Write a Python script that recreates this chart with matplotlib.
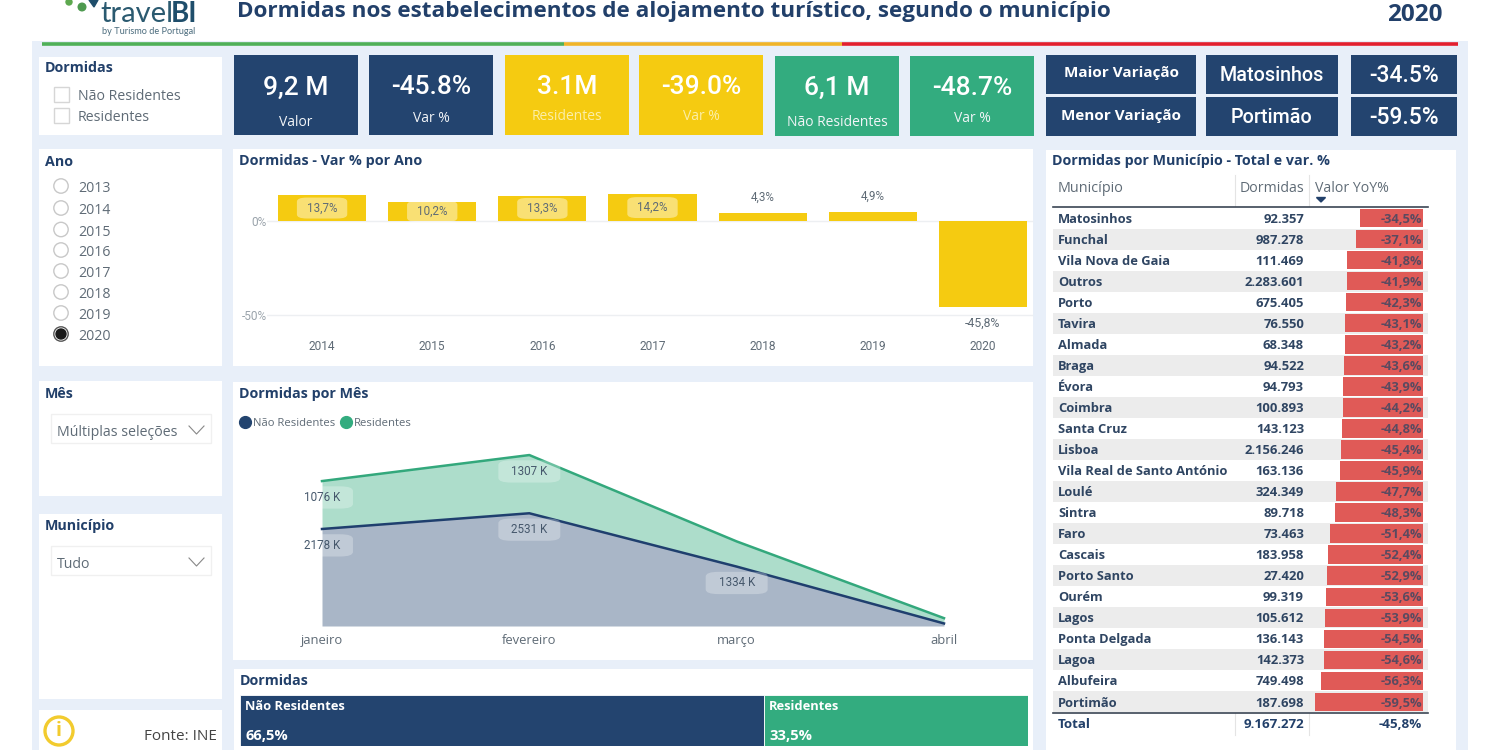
import matplotlib
matplotlib.use('Agg')
import matplotlib.pyplot as plt
from matplotlib.patches import Rectangle, Circle, Polygon
from matplotlib.lines import Line2D

# Dados
anos_slicer = ['2013', '2014', '2015', '2016', '2017', '2018', '2019', '2020']
anos = ['2014', '2015', '2016', '2017', '2018', '2019', '2020']
var_ano = [13.7, 10.2, 13.3, 14.2, 4.3, 4.9, -45.8]

meses = ['janeiro', 'fevereiro', 'março', 'abril']
nao_residentes = [2178, 2531, 1334, 57]
residentes = [1076, 1307, 565, 119]

quota_nomes = ['Não Residentes', 'Residentes']
quota_valores = [66.5, 33.5]

municipios = ['Matosinhos', 'Funchal', 'Vila Nova de Gaia', 'Outros', 'Porto', 'Tavira', 'Almada', 'Braga',
              'Évora', 'Coimbra', 'Santa Cruz', 'Lisboa', 'Vila Real de Santo António', 'Loulé', 'Sintra',
              'Faro', 'Cascais', 'Porto Santo', 'Ourém', 'Lagos', 'Ponta Delgada', 'Lagoa', 'Albufeira',
              'Portimão']
dormidas = [92357, 987278, 111469, 2283601, 675405, 76550, 68348, 94522, 94793, 100893, 143123, 2156246,
            163136, 324349, 89718, 73463, 183958, 27420, 99319, 105612, 136143, 142373, 749498, 187698]
yoy = [-34.5, -37.1, -41.8, -41.9, -42.3, -43.1, -43.2, -43.6, -43.9, -44.2, -44.8, -45.4, -45.9, -47.7,
       -48.3, -51.4, -52.4, -52.9, -53.6, -53.9, -54.5, -54.6, -56.3, -59.5]
total_dormidas = 9167272
total_yoy = -45.8

# Cores
NAVY = '#23446F'
YELLOW = '#F5CB11'
GREEN = '#33AC7F'
BG = '#E8EFF9'
TITLE = '#22406A'
GREY = '#5F6B76'
UI = 'Open Sans'
DIN = 'Roboto'

plt.rcParams['font.family'] = [UI, 'DejaVu Sans']

fig = plt.figure(figsize=(15, 7.5), dpi=100, facecolor='white')

# Camada base em pixels
base = fig.add_axes([0, 0, 1, 1], zorder=0)
base.set_xlim(0, 1500)
base.set_ylim(750, 0)
base.axis('off')


def caixa(x0, y0, x1, y1, cor='white', **kw):
    base.add_patch(Rectangle((x0, y0), x1 - x0, y1 - y0, facecolor=cor, edgecolor='none', **kw))


def txt(x, y, s, size=10, color=GREY, weight='normal', ha='left', family=UI):
    # o +1 acerta o centro vertical do texto com o da referencia
    base.text(x, y + 1, s, fontsize=size, color=color, fontweight=weight, ha=ha, va='center', family=family)


def eixo(x0, y0, x1, y1):
    a = fig.add_axes([x0 / 1500, 1 - y1 / 750, (x1 - x0) / 1500, (y1 - y0) / 750], zorder=2)
    a.patch.set_alpha(0)
    return a


def pt(v):
    return f'{v:.1f}%'.replace('.', ',')


# Fundo e cabecalho
caixa(32, 41, 1468, 750, BG)
base.plot([42, 564], [43.5, 43.5], color='#4FB058', lw=2.6, solid_capstyle='butt')
base.plot([564, 842], [43.5, 43.5], color='#F0B429', lw=2.6, solid_capstyle='butt')
base.plot([842, 1458], [43.5, 43.5], color='#E3202F', lw=2.6, solid_capstyle='butt')

# Logo
base.add_patch(Circle((69, 2), 3, color='#5DA84E'))
base.add_patch(Circle((82, 7), 3.8, color='#4E9A50'))
base.add_patch(Polygon([(89, 0), (98, 0), (94, 7)], color='#1F4E6B'))
txt(100, 13, 'travel', 21, '#2B5A70', family='Lato')
txt(171, 13, 'BI', 20, '#1F4E6B', 'bold', family='Lato')
txt(102, 30, 'by Turismo de Portugal', 6.6, '#4A6B7C', family='Lato')

txt(237, 11, 'Dormidas nos estabelecimentos de alojamento turístico, segundo o município', 16.2, TITLE, 'bold')
txt(1414.5, 14, '2020', 17.5, TITLE, 'bold', ha='center')

# Paineis brancos
for r in [(39, 57, 222, 135), (39, 149, 222, 366), (39, 381, 222, 496), (39, 514, 222, 699), (39, 710, 222, 750),
          (233, 149, 1033, 366), (233, 382, 1033, 660), (234, 669, 1033, 750), (1046, 150, 1456, 750)]:
    caixa(*r)

# Slicer Dormidas
txt(45, 67.5, 'Dormidas', 10.3, TITLE, 'bold')
for y, s in zip([94, 115], ['Não Residentes', 'Residentes']):
    base.add_patch(Rectangle((53.5, y - 7.5), 15, 15, facecolor='white', edgecolor='#D6D6D6', lw=1))
    txt(78, y + 1.2, s, 10.2)

# Slicer Ano
txt(45, 160.5, 'Ano', 10.3, TITLE, 'bold')
ys_ano = [186, 208, 229.5, 250, 271, 292, 313, 334]
for y, s in zip(ys_ano, anos_slicer):
    base.add_patch(Circle((61, y), 7.2, facecolor='white', edgecolor='#C8C8C8' if s != '2020' else '#555555', lw=1))
    if s == '2020':
        base.add_patch(Circle((61, y), 5, color='#1A1A1A'))
    txt(78, y + 1.5, s, 10.2)

# Slicers Mes e Municipio
for y_tit, tit, y0, val in [(393, 'Mês', 414, 'Múltiplas seleções'), (525, 'Município', 546, 'Tudo')]:
    txt(45, y_tit, tit, 10.3, TITLE, 'bold')
    base.add_patch(Rectangle((51, y0), 160, 29, facecolor='white', edgecolor='#F0F0F0', lw=1))
    txt(57, y0 + 17, val, 10.2)
    base.plot([189, 196.5, 204], [y0 + 12, y0 + 20, y0 + 12], color='#888888', lw=0.8)

# Fonte
base.add_patch(Circle((59, 731), 14, facecolor='white', edgecolor='#F2CB2E', lw=2.4))
txt(59, 730, 'i', 14, '#F2CB2E', 'bold', ha='center')
txt(217, 736, 'Fonte: INE', 11, '#444444', ha='right')

# KPIs
kpis = [(234, 55, 358, 135, NAVY, '9,2 M', 'Valor', 87, 121.5),
        (369, 55, 493, 135, NAVY, '-45.8%', 'Var %', 86, 117),
        (505, 55, 629, 135, YELLOW, '3.1M', 'Residentes', 86, 116),
        (639, 55, 763, 135, YELLOW, '-39.0%', 'Var %', 86, 116),
        (775, 56, 899, 136, GREEN, '6,1 M', 'Não Residentes', 87, 121.5),
        (910, 56, 1034, 136, GREEN, '-48.7%', 'Var %', 87, 117)]
for x0, y0, x1, y1, cor, val, sub, yv, ys in kpis:
    caixa(x0, y0, x1, y1, cor)
    cx = (x0 + x1) / 2
    txt(cx, yv, val, 19, 'white', weight='medium', ha='center', family=DIN)
    txt(cx, ys, sub, 10, '#FBEEA8' if cor == YELLOW else '#F2F5F8', ha='center')

# Maior / menor variacao
for y0, y1, yl, a, b, c in [(55, 94, 71.5, 'Maior Variação', 'Matosinhos', '-34.5%'),
                            (97, 136, 115, 'Menor Variação', 'Portimão', '-59.5%')]:
    ym = (y0 + y1) / 2
    caixa(1046, y0, 1196, y1, NAVY)
    caixa(1206, y0, 1338, y1, NAVY)
    caixa(1351, y0, 1457, y1, NAVY)
    txt(1121, yl, a, 11, 'white', 'bold', ha='center')
    txt(1272, ym, b, 14.2, 'white', weight='medium', ha='center', family=DIN)
    txt(1404, ym, c, 16.5, 'white', weight='medium', ha='center', family=DIN)

# Var % por ano
txt(239, 160.5, 'Dormidas - Var % por Ano', 10.4, TITLE, 'bold')
ax1 = eixo(267, 185, 1038, 330)
ax1.set_xlim(-0.5, 6.5)
ax1.set_ylim(-58, 19.1)
ax1.bar(range(len(anos)), var_ano, width=0.8, color=YELLOW, zorder=3)
for v in [0, -50]:
    ax1.plot([-0.5, 6.45], [v, v], color='#EDEFF2', lw=1, zorder=1)
for s in ax1.spines.values():
    s.set_visible(False)
ax1.set_xticks(range(len(anos)))
ax1.set_xticklabels(anos, family=DIN, fontsize=8.6, color=GREY)
ax1.set_yticks([0, -50])
ax1.set_yticklabels(['0%', '-50%'], family=DIN, fontsize=8.6, color='#9AA3AB')
ax1.tick_params(axis='x', length=0, pad=7)
ax1.tick_params(axis='y', length=0, pad=0)
for i, v in enumerate(var_ano):
    if v > 10:
        ax1.text(i, v / 2, pt(v), ha='center', va='center', fontsize=8.4, family=DIN, color=GREY, zorder=4,
                 bbox=dict(boxstyle='round,pad=0.85', fc='white', ec='none', alpha=0.42, mutation_aspect=0.4))
    elif v > 0:
        ax1.annotate(pt(v), (i, v), xytext=(0, 11), textcoords='offset points', ha='center', va='center',
                     fontsize=8.4, family=DIN, color=GREY)
    else:
        ax1.annotate(pt(v), (i, v), xytext=(0, -12), textcoords='offset points', ha='center', va='center',
                     fontsize=8.8, family=DIN, color=GREY)

# Dormidas por mes
txt(239, 393, 'Dormidas por Mês', 10.3, TITLE, 'bold')
ax2 = eixo(322, 440, 944, 626)
ax2.set_xlim(0, 3)
ax2.set_ylim(0, 4176)
total_mes = [a + b for a, b in zip(nao_residentes, residentes)]
xs = list(range(len(meses)))
ax2.fill_between(xs, 0, nao_residentes, color=NAVY, alpha=0.39, lw=0)
ax2.fill_between(xs, nao_residentes, total_mes, color=GREEN, alpha=0.4, lw=0)
ax2.plot(xs, total_mes, color='#33A87C', lw=1.8, clip_on=False)
ax2.plot(xs, nao_residentes, color='#1F3F6E', lw=1.8, clip_on=False)
for s in ax2.spines.values():
    s.set_visible(False)
ax2.set_yticks([])
ax2.set_xticks(xs)
ax2.set_xticklabels(meses, fontsize=9.4, color=GREY)
ax2.tick_params(length=0, pad=6)
for i, topo, v in [(0, total_mes[0], residentes[0]), (1, total_mes[1], residentes[1]),
                   (0, nao_residentes[0], nao_residentes[0]), (1, nao_residentes[1], nao_residentes[1]),
                   (2, nao_residentes[2], nao_residentes[2])]:
    ax2.annotate(f'{v} K', (i, topo), xytext=(0, -11.8), textcoords='offset points', ha='center', va='center',
                 fontsize=8.4, family=DIN, color='#46586C', annotation_clip=False,
                 bbox=dict(boxstyle='round,pad=1.1', fc='white', ec='none', alpha=0.28, mutation_aspect=0.36))
marcadores = [Line2D([], [], marker='o', ls='', ms=8.5, color=NAVY, label='Não Residentes'),
              Line2D([], [], marker='o', ls='', ms=8.5, color=GREEN, label='Residentes')]
base.legend(handles=marcadores, loc='center left', bbox_to_anchor=(239.5, 423), bbox_transform=base.transData,
            ncol=2, frameon=False, fontsize=8.1, labelcolor=GREY, handlelength=1, handletextpad=0.2,
            columnspacing=0.47, borderpad=0, borderaxespad=0)

# Quota
txt(240, 680, 'Dormidas', 10.3, TITLE, 'bold')
ax3 = eixo(240, 695, 1028, 746)
ax3.set_xlim(0, 100)
ax3.set_ylim(0, 1)
ax3.axis('off')
esq = 0
for nome, v, cor in zip(quota_nomes, quota_valores, [NAVY, GREEN]):
    ax3.barh(0.5, v, left=esq, height=1, color=cor, edgecolor='white', lw=0.6)
    ax3.annotate(nome, (esq, 1), xytext=(3.8, -8.2), textcoords='offset points', color='white', fontsize=9.3,
                 fontweight='bold', va='center')
    ax3.annotate(pt(v), (esq, 0), xytext=(3.8, 7.5), textcoords='offset points', color='white', fontsize=10.6,
                 fontweight='bold', va='center')
    esq += v

# Tabela
txt(1052, 160.5, 'Dormidas por Município - Total e var. %', 10.3, TITLE, 'bold')
txt(1058, 187, 'Município', 10.4)
txt(1304, 187, 'Dormidas', 10.2, ha='right')
txt(1315, 187, 'Valor YoY%', 10.2)
base.add_patch(Polygon([(1316.5, 197.5), (1325.5, 197.5), (1321, 202)], color=TITLE))
for x in [1235, 1309]:
    base.plot([x, x], [175, 206], color='#E4E4E4', lw=0.8)
    base.plot([x, x], [713, 735], color='#E4E4E4', lw=0.8)
base.plot([1053, 1428], [207, 207], color='#3B4654', lw=1.2)

ax4 = eixo(1053, 207.5, 1428, 712.5)
ax4.set_xlim(-(1423 - 1053) / 1.815, (1428 - 1423) / 1.815)
ax4.set_ylim(len(municipios) - 0.5, -0.5)
ax4.axis('off')
for i in range(1, len(municipios), 2):
    ax4.axhspan(i - 0.5, i + 0.5, color='#ECECEC', lw=0, zorder=1)
ax4.barh(range(len(municipios)), yoy, height=0.88, color='#E05A57', zorder=2)
tr = ax4.get_yaxis_transform()
for i, (m, d, v) in enumerate(zip(municipios, dormidas, yoy)):
    yt = i + 0.05
    ax4.text(5 / 375, yt, m, transform=tr, fontsize=9.3, fontweight='bold', color='#2F4562', va='center', zorder=3)
    ax4.text(251 / 375, yt, f'{d:,}'.replace(',', '.'), transform=tr, fontsize=9.4, fontweight='bold',
             color='#2F4562', va='center', ha='right', zorder=3)
    ax4.text(369 / 375, yt, pt(v), transform=tr, fontsize=9.3, fontweight='bold', color='#5A4A60', va='center',
             ha='right', zorder=3)

base.plot([1053, 1428], [712.5, 712.5], color='#3B4654', lw=1.2, zorder=5)
txt(1058, 723, 'Total', 9.6, TITLE, 'bold')
txt(1304, 723, f'{total_dormidas:,}'.replace(',', '.'), 9.6, TITLE, 'bold', ha='right')
txt(1422, 723, pt(total_yoy), 9.6, TITLE, 'bold', ha='right')

fig.savefig('out.png', dpi=100)
